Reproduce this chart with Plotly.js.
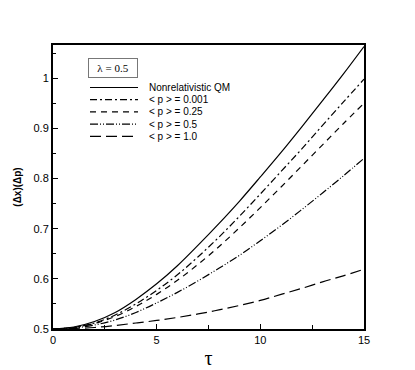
<!DOCTYPE html>
<html>
<head>
<meta charset="utf-8">
<script src="https://cdn.plot.ly/plotly-3.0.1.min.js"></script>
<style>
  body { margin: 0; background: #fff; }
  #plot { width: 415px; height: 370px; }
</style>
</head>
<body>
<div id="plot"></div>
<script>
// time values
var tau = [0, 1, 2, 3, 4, 5, 6, 7, 8, 9, 10, 11, 12, 13, 14, 15];

// (dx)(dp)
var nonrel = [0.500, 0.504, 0.515, 0.533, 0.559, 0.590, 0.626, 0.667, 0.710, 0.755, 0.803, 0.852, 0.903, 0.955, 1.008, 1.063];
var p0001 = [0.500, 0.503, 0.512, 0.528, 0.550, 0.577, 0.608, 0.644, 0.683, 0.725, 0.769, 0.814, 0.859, 0.906, 0.952, 0.998];
var p025 = [0.500, 0.503, 0.511, 0.525, 0.545, 0.569, 0.597, 0.629, 0.664, 0.702, 0.742, 0.783, 0.825, 0.867, 0.909, 0.950];
var p05 = [0.500, 0.502, 0.508, 0.518, 0.533, 0.552, 0.573, 0.596, 0.621, 0.647, 0.676, 0.706, 0.738, 0.771, 0.805, 0.840];
var p10 = [0.500, 0.501, 0.503, 0.507, 0.512, 0.517, 0.523, 0.530, 0.538, 0.547, 0.557, 0.569, 0.581, 0.594, 0.606, 0.619];

var names = ["Nonrelativistic QM", "< p > = 0.001", "< p > = 0.25", "< p > = 0.5", "< p > = 1.0"];
var series = [nonrel, p0001, p025, p05, p10];
var dashes = ["solid", "7px,3px,2px,3px", "6px,5px", "8px,2px,1px,2px,1px,2px", "11px,5px"];

var traceData = series.map(function (ys, i) {
  return {
    x: tau,
    y: ys,
    name: names[i],
    mode: "lines",
    line: { color: "black", width: 1.2, dash: dashes[i], shape: "spline" },
    showlegend: false
  };
});

// hand-made legend so the rows sit as tight as in the figure
var shapes = [];
var annotations = [];
var legTop = 87.5, legStep = 12.2;
names.forEach(function (n, i) {
  var yp = 1 - (legTop + i * legStep - 45) / 284;
  shapes.push({
    type: "line", xref: "paper", yref: "paper",
    x0: (90 - 53) / 311, x1: (138 - 53) / 311, y0: yp, y1: yp,
    line: { color: "black", width: 1.2, dash: dashes[i] }
  });
  annotations.push({
    xref: "paper", yref: "paper", x: (147 - 53) / 311, y: yp,
    xanchor: "left", yanchor: "middle", showarrow: false,
    text: n, font: { family: "Liberation Sans, Arial", size: 10, color: "black" }
  });
});

annotations.push({
  xref: "paper", yref: "paper", x: (113 - 53) / 311, y: 1 - (68 - 45) / 284,
  xanchor: "center", yanchor: "middle", showarrow: false,
  text: "λ = 0.5", font: { family: "Liberation Serif, Times New Roman, serif", size: 11, color: "black" },
  bordercolor: "#777", borderwidth: 1, borderpad: 3, bgcolor: "white",
  width: 42
});

var layout = {
  width: 415,
  height: 370,
  margin: { l: 53, r: 51, t: 45, b: 41 },
  paper_bgcolor: "white",
  plot_bgcolor: "white",
  font: { family: "Liberation Sans, Arial", size: 11, color: "black" },
  xaxis: {
    range: [0, 15],
    dtick: 5,
    ticks: "inside",
    ticklen: 5,
    tickcolor: "black",
    minor: { dtick: 2.5, ticks: "inside", ticklen: 4, tickcolor: "black" },
    showgrid: false,
    zeroline: false,
    showline: true,
    linewidth: 2,
    linecolor: "black",
    mirror: true,
    title: { text: "τ", font: { family: "Liberation Serif, Times New Roman, serif", size: 20 }, standoff: 6 }
  },
  yaxis: {
    range: [0.5, 1.066],
    dtick: 0.1,
    tick0: 0.5,
    ticks: "inside",
    ticklen: 5,
    tickcolor: "black",
    minor: { dtick: 0.05, ticks: "inside", ticklen: 3, tickcolor: "black" },
    showgrid: false,
    zeroline: false,
    showline: true,
    linewidth: 2,
    linecolor: "black",
    mirror: true,
    title: { text: "<b>(Δx)(Δp)</b>", font: { size: 10 }, standoff: 10 }
  },
  shapes: shapes,
  annotations: annotations
};

Plotly.newPlot("plot", traceData, layout, { displayModeBar: false });
</script>
</body>
</html>
